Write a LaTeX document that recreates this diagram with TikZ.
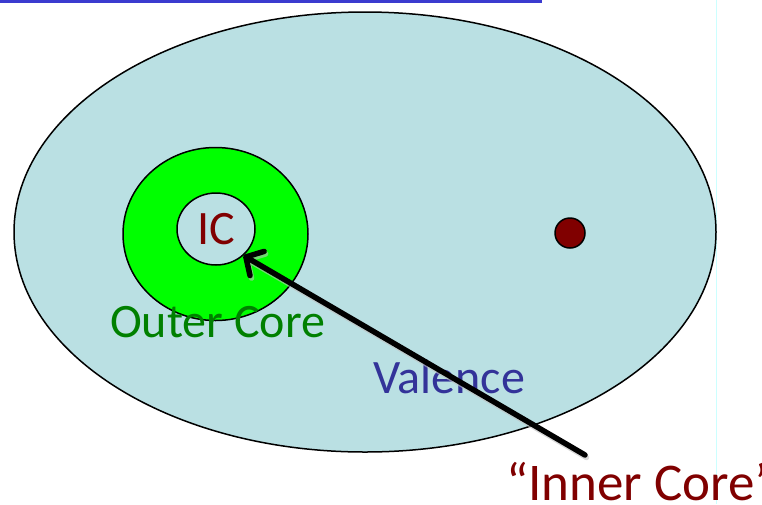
\documentclass[tikz,border=0pt]{standalone}
\usepackage{fontspec}
\setmainfont{Carlito}
\usetikzlibrary{shapes.geometric, arrows.meta}
\definecolor{valfill}{HTML}{BAE0E3}
\definecolor{corefill}{HTML}{00FF00}
\definecolor{coretext}{HTML}{008000}
\definecolor{valtext}{HTML}{333399}
\definecolor{ictext}{HTML}{800000}
\definecolor{topbar}{HTML}{3B3BCF}
\definecolor{sideline}{HTML}{CCFFFF}
\tikzset{
  shell/.style={ellipse, draw=black, line width=1.5pt, inner sep=0pt},
  lbl/.style={anchor=base west, inner sep=0pt, font=\fontsize{48}{56}\selectfont},
  arr/.style={-{Straight Barb[round, length=13pt, width=28pt]}, line width=5.5pt, line cap=round, draw=black},
}
\begin{document}
\begin{tikzpicture}[x=1pt, y=-1pt]
  \useasboundingbox (0,0) rectangle (762,504);
  \fill[topbar] (0,0) rectangle (542,3);
  \draw[sideline, line width=1pt] (716.5,0) -- (716.5,504);
  \node[shell, fill=valfill, minimum width=702pt, minimum height=440pt] (valence) at (365,232) {};
  \node[shell, fill=corefill, minimum width=185pt, minimum height=173pt] (outer) at (215.5,234) {};
  \node[shell, fill=valfill, minimum width=78pt, minimum height=72pt, text=ictext, font=\fontsize{48}{56}\selectfont] (ic) at (216,229) {IC};
  \node[circle, draw=black, line width=1.5pt, fill=ictext, minimum size=30pt, inner sep=0pt] (dot) at (570,233) {};
  \node[lbl, text=coretext] (outerlbl) at (110,337) {Outer Core};
  \node[lbl, text=valtext] (vallbl) at (373,393) {Valence};
  \node[lbl, text=ictext, font=\fontsize{53}{60}\selectfont] (innerlbl) at (506,500) {“Inner Core”};
  \coordinate (tail) at (585,455);
  \draw[arr, draw=black!25, opacity=0.6, transform canvas={shift={(1.5pt,-2.5pt)}}] (tail) -- (ic.-44);
  \draw[arr] (tail) -- (ic.-44);
\end{tikzpicture}
\end{document}
